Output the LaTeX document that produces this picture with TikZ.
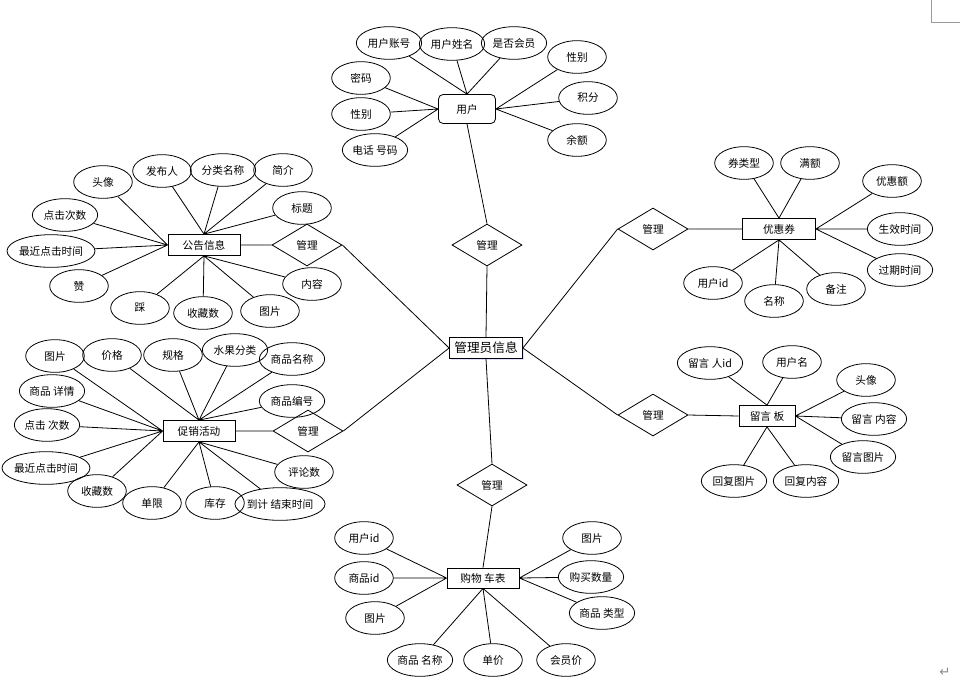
\documentclass[tikz,border=0pt]{standalone}
\usepackage{fontspec}
\setmainfont{Noto Sans CJK SC}
\newfontfamily\symfont{DejaVu Sans}
\usetikzlibrary{shapes.geometric,shadows}

\begin{document}
\begin{tikzpicture}[x=0.75pt,y=-0.75pt,line width=0.6pt,
  font=\fontsize{8}{9}\selectfont,
  attr/.style={draw,ellipse,inner sep=0pt,minimum width=44pt,minimum height=24.5pt},
  wattr/.style={attr,minimum width=49pt},
  lattr/.style={attr,inner xsep=-1pt,minimum width=66pt},
  entity/.style={draw,rectangle,inner sep=1pt,minimum width=54pt,minimum height=15.75pt},
  rel/.style={draw,diamond,inner sep=0pt,minimum width=52.5pt,minimum height=31.5pt}]
  \useasboundingbox (0,0) rectangle (960,683);
  \draw[black!40] (931,0) -- (931,22) -- (960,22);
  \node[black!45] (ret) at (945,672) {\symfont\fontsize{10}{10}\selectfont ↵};

  \node[entity,drop shadow={shadow xshift=0.8pt,shadow yshift=-0.8pt,fill=blue!25,opacity=0.5},fill=white,
    minimum width=54.75pt,font=\fontsize{9.5}{10}\selectfont] (mgr) at (486,348) {管理员信息};

  \node[entity,rounded corners=3.5pt,minimum width=42.75pt,minimum height=21.75pt] (user) at (467,109) {用户};
  \node[wattr] (u1) at (389,43) {用户账号};
  \node[wattr] (u2) at (452,44) {用户姓名};
  \node[wattr] (u3) at (514,43) {是否会员};
  \node[attr] (u4) at (577,57) {性别};
  \node[attr] (u5) at (588,98) {积分};
  \node[attr] (u6) at (577,140) {余额};
  \node[attr] (u7) at (361,78) {密码};
  \node[attr] (u8) at (361,114) {性别};
  \node[wattr] (u9) at (375,150) {电话 号码};
  \node[rel] (g1) at (487,245) {管理};
  \draw (u1) -- (user.north) (u2) -- (user.north) (u3) -- (user.north);
  \draw (u4) -- (user.east) (u5) -- (user.east) (u6) -- (user.east);
  \draw (u7) -- (user.west) (u8) -- (user.west) (u9) -- (user.west);
  \draw (user.south) -- (g1.north) (g1.south) -- (mgr.north);

  \node[entity] (notice) at (204,245) {公告信息};
  \node[rel] (g2) at (307,245) {管理};
  \node[attr] (n1) at (103,182) {头像};
  \node[attr] (n2) at (162,171) {发布人};
  \node[wattr] (n3) at (223,170) {分类名称};
  \node[attr] (n4) at (283,170) {简介};
  \node[attr] (n5) at (302,208) {标题};
  \node[wattr] (n6) at (65,215) {点击次数};
  \node[lattr] (n7) at (51,251) {最近点击时间};
  \node[attr] (n8) at (79,286) {赞};
  \node[attr] (n9) at (140,308) {踩};
  \node[attr] (n10) at (203,313) {收藏数};
  \node[attr] (n11) at (270,311) {图片};
  \node[attr] (n12) at (312,284) {内容};
  \draw (n1) -- (notice.west) (n6) -- (notice.west) (n7) -- (notice.west) (n8) -- (notice.west);
  \draw (n2) -- (notice.north) (n3) -- (notice.north) (n4) -- (notice.north) (n5) -- (notice.north);
  \draw (n9) -- (notice.south) (n10) -- (notice.south) (n11) -- (notice.south) (n12) -- (notice.south);
  \draw (notice.east) -- (g2.west) (g2.east) -- (mgr.west);

  \node[entity] (promo) at (199,431) {促销活动};
  \node[rel] (g3) at (308,431) {管理};
  \node[attr] (p1) at (55,356) {图片};
  \node[attr] (p2) at (112,355) {价格};
  \node[attr] (p3) at (173,355) {规格};
  \node[wattr] (p4) at (235,350) {水果分类};
  \node[wattr] (p5) at (292,359) {商品名称};
  \node[wattr] (p6) at (292,401) {商品编号};
  \node[wattr] (p7) at (52,391) {商品 详情};
  \node[wattr] (p8) at (47,425) {点击 次数};
  \node[lattr] (p9) at (46,468) {最近点击时间};
  \node[attr] (p10) at (97,491) {收藏数};
  \node[attr] (p11) at (152,503) {单限};
  \node[attr] (p12) at (215,503) {库存};
  \node[lattr] (p13) at (280,504) {到计 结束时间};
  \node[attr] (p14) at (304,472) {评论数};
  \draw (p1) -- (promo.west) (p7) -- (promo.west) (p8) -- (promo.west) (p9) -- (promo.west) (p10) -- (promo.west);
  \draw (p2) -- (promo.north) (p3) -- (promo.north) (p4) -- (promo.north) (p5) -- (promo.north) (p6) -- (promo.north);
  \draw (p11) -- (promo.south) (p12) -- (promo.south) (p13) -- (promo.south) (p14) -- (promo.south);
  \draw (promo.east) -- (g3.west) (g3.east) -- (mgr.west);

  \node[entity,minimum width=54.75pt] (coupon) at (779,229) {优惠券};
  \node[rel] (g4) at (653,229) {管理};
  \node[attr] (c1) at (744,163) {券类型};
  \node[attr] (c2) at (810,163) {满额};
  \node[attr] (c3) at (892,181) {优惠额};
  \node[wattr] (c4) at (900,229) {生效时间};
  \node[wattr] (c5) at (900,270) {过期时间};
  \node[attr] (c6) at (713,283) {用户id};
  \node[attr] (c7) at (774,301) {名称};
  \node[attr] (c8) at (836,289) {备注};
  \draw (c1) -- (coupon.north) (c2) -- (coupon.north);
  \draw (c3) -- (coupon.east) (c4) -- (coupon.east) (c5) -- (coupon.east);
  \draw (c6) -- (coupon.south) (c7) -- (coupon.south) (c8) -- (coupon.south);
  \draw (mgr.east) -- (g4.west) (g4.east) -- (coupon.west);

  \node[entity,minimum width=42pt] (msg) at (767,416) {留言 板};
  \node[rel] (g5) at (653,415) {管理};
  \node[wattr] (m1) at (710,363) {留言 人id};
  \node[attr] (m2) at (792,362) {用户名};
  \node[attr] (m3) at (866,380) {头像};
  \node[wattr] (m4) at (874,419) {留言 内容};
  \node[wattr] (m5) at (863,457) {留言图片};
  \node[wattr] (m6) at (734,481) {回复图片};
  \node[wattr] (m7) at (806,481) {回复内容};
  \draw (m1) -- (msg.north) (m2) -- (msg.north);
  \draw (m3) -- (msg.east) (m4) -- (msg.east) (m5) -- (msg.east);
  \draw (m6) -- (msg.south) (m7) -- (msg.south);
  \draw (mgr.east) -- (g5.west) (g5.east) -- (msg.west);

  \node[rel] (g6) at (492,485) {管理};
  \node[entity,minimum height=15pt] (cart) at (483,578) {购物 车表};
  \node[attr] (s1) at (364,538) {用户id};
  \node[attr] (s2) at (364,578) {商品id};
  \node[attr] (s3) at (375,618) {图片};
  \node[wattr] (s4) at (420,660) {商品 名称};
  \node[attr] (s5) at (493,660) {单价};
  \node[attr] (s6) at (566,660) {会员价};
  \node[attr] (s7) at (592,538) {图片};
  \node[wattr] (s8) at (591,577) {购买数量};
  \node[wattr] (s9) at (602,613) {商品 类型};
  \draw (s1) -- (cart.west) (s2) -- (cart.west) (s3) -- (cart.west);
  \draw (s4) -- (cart.south) (s5) -- (cart.south) (s6) -- (cart.south);
  \draw (s7) -- (cart.east) (s8) -- (cart.east) (s9) -- (cart.east);
  \draw (mgr.south) -- (g6.north) (g6.south) -- (cart.north);
\end{tikzpicture}
\end{document}
